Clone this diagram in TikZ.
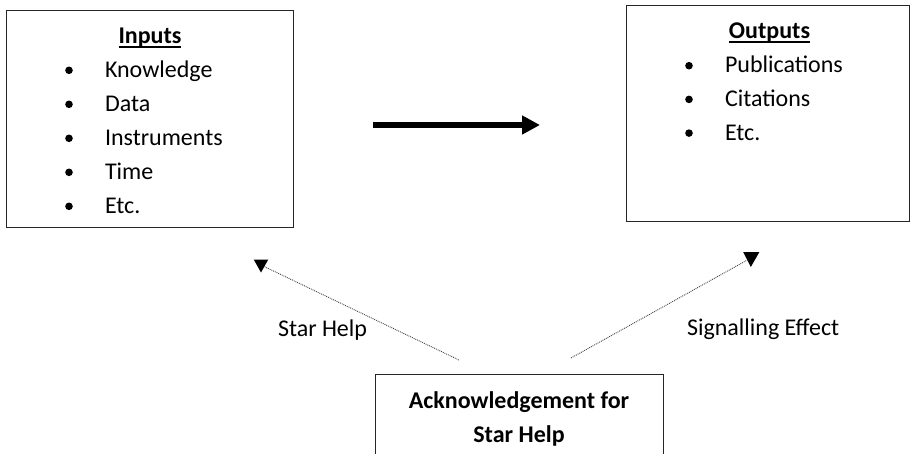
\documentclass[tikz,border=0pt]{standalone}
\usepackage{fontspec}
\setmainfont{Carlito}
\usetikzlibrary{arrows.meta}
\tikzset{
  boxframe/.style={draw=black!85, line width=1pt, rectangle, inner sep=0pt, outer sep=0pt, anchor=north west},
  txt/.style={inner sep=0pt, outer sep=0pt, font=\fontsize{24}{34}\selectfont},
  btxt/.style={txt, font=\fontsize{24}{34}\selectfont\bfseries},
  bul/.style={circle, fill=black, inner sep=0pt, minimum size=7.6pt},
  ulined/.style={line width=1.8pt},
  mainarrow/.style={line width=6pt, -{Triangle[length=18pt,width=18pt]}},
  dotline/.style={black!75, line width=0.9pt, densely dotted},
  headtri/.style={fill=black}
}
\begin{document}
\begin{tikzpicture}[x=1pt,y=-1pt]
\useasboundingbox (0,0) rectangle (910,453);
\clip (0,0) rectangle (910,453);
% boxes
\node[boxframe, minimum width=286.5pt, minimum height=217.5pt] (inbox) at (6.5,10) {};
\node[boxframe, minimum width=283pt, minimum height=216.5pt] (outbox) at (626,5) {};
\node[boxframe, minimum width=288pt, minimum height=100pt] (ackbox) at (375,374) {};
% inputs
\node[btxt, anchor=base] (inh) at (150,43.5) {Inputs};
\draw[ulined] ([yshift=-3.8pt]inh.base west) -- ([yshift=-3.8pt]inh.base east);
\foreach \t [count=\i] in {Knowledge,Data,Instruments,Time,Etc.}{
  \node[txt, anchor=base west] (in\i) at (105,{77.3+34*(\i-1)}) {\t};
  \node[bul] (inb\i) at (69,{70.3+34*(\i-1)}) {};
}
% outputs
\node[btxt, anchor=base] (outh) at (769.5,38.3) {Outputs};
\draw[ulined] ([yshift=-3.8pt]outh.base west) -- ([yshift=-3.8pt]outh.base east);
\foreach \t [count=\i] in {Publications,Citations,Etc.}{
  \node[txt, anchor=base west] (out\i) at (725,{72.7+33.7*(\i-1)}) {\t};
  \node[bul] (outb\i) at (689,{65.7+33.7*(\i-1)}) {};
}
% acknowledgement
\node[btxt, anchor=base] (ack1) at (519,408.5) {Acknowledgement for};
\node[btxt, anchor=base] (ack2) at (519,442) {Star Help};
% main arrow
\coordinate (ma) at (373,125);
\coordinate (mb) at (540,125);
\draw[mainarrow] (ma) -- (mb);
% dotted arrows
\coordinate (lt) at (459,360);
\coordinate (lh) at (261,265);
\coordinate (rt) at (571,358);
\coordinate (rh) at (751,258);
\draw[dotline] (lt) -- (lh);
\draw[dotline] (rt) -- (rh);
\fill[headtri] (lh) ++(-7.3,-5.5) -- ++(14.6,0) -- ++(-7.3,13) -- cycle;
\fill[headtri] (rh) ++(-7.8,-6) -- ++(16.2,0) -- ++(-8.6,15) -- cycle;
% labels
\node[txt, anchor=base west] (lbl1) at (278,336) {Star Help};
\node[txt, anchor=base west] (lbl2) at (687,335) {Signalling Effect};
\end{tikzpicture}
\end{document}
